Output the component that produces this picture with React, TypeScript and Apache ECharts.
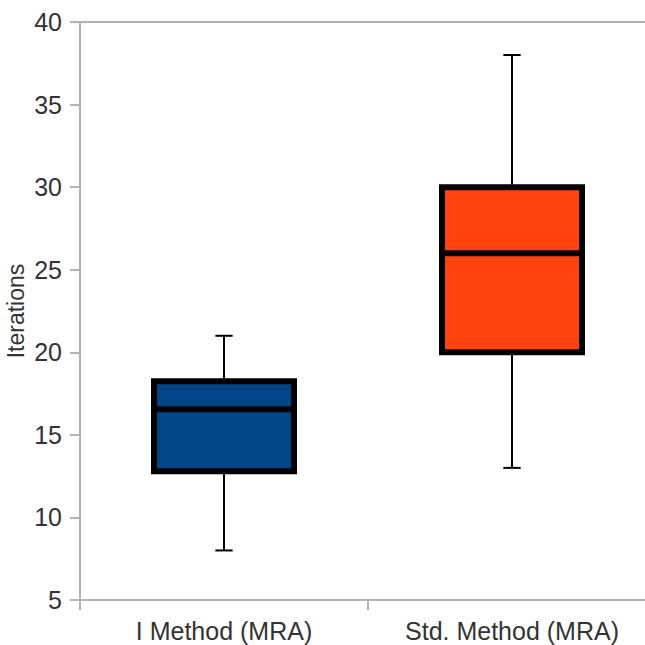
import React, { useEffect, useRef } from "react";
import * as echarts from "echarts";

const categories = ["I Method (MRA)", "Std. Method (MRA)"];
// [min, q1, median, q3, max]
const boxStats = [
  [8, 12.8, 16.55, 18.25, 21],
  [13, 20, 26, 30, 38],
];
const boxColors = ["#004586", "#ff420e"];
const yTicks = { min: 5, max: 40, interval: 5 };
const yName = "Iterations";

export default function App() {
  const ref = useRef<HTMLDivElement>(null);
  useEffect(() => {
    if (!ref.current) return;
    const chart = echarts.init(ref.current, undefined, { renderer: "svg" });
    const data = boxStats.map((s, i) => [i, ...s]);
    const axisColor = "#b3b3b3";
    const textColor = "#333333";
    const font = "Liberation Sans";
    chart.setOption({
      animation: false,
      grid: {
        left: 80,
        top: 22,
        width: 576,
        height: 578,
        containLabel: false,
        outerBoundsMode: "none",
      },
      xAxis: [
        {
          type: "category",
          data: categories,
          boundaryGap: true,
          axisLine: { lineStyle: { color: axisColor, width: 2 } },
          axisTick: { show: true, length: 10, lineStyle: { color: axisColor, width: 2 } },
          axisLabel: { color: textColor, fontFamily: font, fontSize: 25, margin: 18 },
          splitLine: { show: false },
        },
        {
          type: "category",
          data: categories,
          position: "top",
          axisLine: { show: true, lineStyle: { color: axisColor, width: 2 } },
          axisTick: { show: false },
          axisLabel: { show: false },
          splitLine: { show: false },
        },
      ],
      yAxis: {
        type: "value",
        min: yTicks.min,
        max: yTicks.max,
        interval: yTicks.interval,
        name: yName,
        nameLocation: "middle",
        nameGap: 53,
        nameMoveOverlap: false,
        nameTextStyle: { color: textColor, fontFamily: font, fontSize: 23 },
        axisLine: { show: true, lineStyle: { color: axisColor, width: 2 } },
        axisTick: { show: true, length: 10, lineStyle: { color: axisColor, width: 2 } },
        axisLabel: { color: textColor, fontFamily: font, fontSize: 25, margin: 18 },
        splitLine: { show: false },
      },
      series: [
        {
          type: "custom",
          data,
          encode: { x: 0, y: [1, 2, 3, 4, 5] },
          renderItem: (params: any, api: any) => {
            const idx = api.value(0);
            const vmin = api.value(1);
            const q1 = api.value(2);
            const med = api.value(3);
            const q3 = api.value(4);
            const vmax = api.value(5);
            const bandW = api.size([1, 0])[0];
            const halfBox = bandW * 0.243;
            const halfCap = bandW * 0.03;
            const pMin = api.coord([idx, vmin]);
            const pQ1 = api.coord([idx, q1]);
            const pMed = api.coord([idx, med]);
            const pQ3 = api.coord([idx, q3]);
            const pMax = api.coord([idx, vmax]);
            const cx = pMin[0];
            const wStyle = { stroke: "#000", lineWidth: 2 };
            return {
              type: "group",
              children: [
                { type: "line", shape: { x1: cx, y1: pMax[1], x2: cx, y2: pMin[1] }, style: wStyle },
                { type: "line", shape: { x1: cx - halfCap, y1: pMax[1], x2: cx + halfCap, y2: pMax[1] }, style: wStyle },
                { type: "line", shape: { x1: cx - halfCap, y1: pMin[1], x2: cx + halfCap, y2: pMin[1] }, style: wStyle },
                {
                  type: "rect",
                  shape: { x: cx - halfBox, y: pQ3[1], width: halfBox * 2, height: pQ1[1] - pQ3[1] },
                  style: { fill: boxColors[params.dataIndex], stroke: "#000", lineWidth: 6, lineJoin: "miter" },
                },
                {
                  type: "line",
                  shape: { x1: cx - halfBox, y1: pMed[1], x2: cx + halfBox, y2: pMed[1] },
                  style: { stroke: "#000", lineWidth: 6 },
                },
              ],
            };
          },
        },
      ],
    });
    return () => chart.dispose();
  }, []);
  return (
    <div
      ref={ref}
      style={{ position: "fixed", left: 0, top: 0, width: 645, height: 645, background: "#fff" }}
    />
  );
}
